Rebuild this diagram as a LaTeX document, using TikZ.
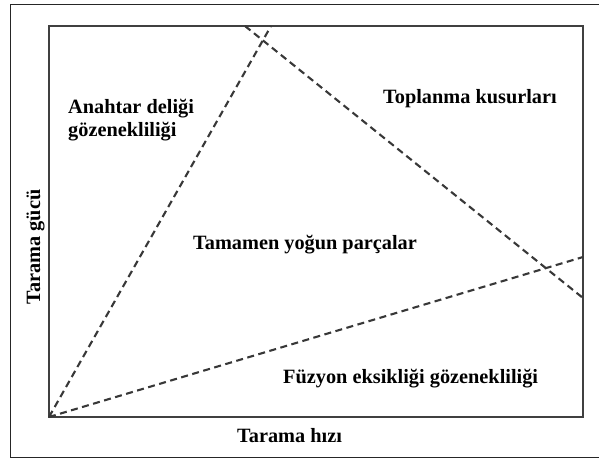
\documentclass[tikz,border=0pt]{standalone}
\usepackage{fontspec}
\setmainfont{Liberation Serif}
\begin{document}
\begin{tikzpicture}[x=1pt,y=-1pt,
  lbl/.style={font=\bfseries\fontsize{20.3}{23}\selectfont, inner sep=0pt, anchor=base west, text=black},
  dashline/.style={dash pattern=on 7pt off 4.5pt, line width=2.1pt, draw=black!78},
  frame/.style={line width=1pt, draw=black!85},
  plotbox/.style={line width=2.2pt, draw=black!75}]
\useasboundingbox (0,0) rectangle (599,459);
\draw[frame] (603,4) -- (10,4) -- (10,457) -- (603,457);
\draw[plotbox] (49,26) rectangle (583,417);
\coordinate (o) at (49,417);
\coordinate (a) at (271,26);
\coordinate (b1) at (245,26);
\coordinate (b2) at (583,298);
\coordinate (c) at (583,257);
\draw[dashline] (o) -- (a);
\draw[dashline] (b1) -- (b2);
\draw[dashline] (o) -- (c);
\node[lbl] (kh1) at (68,113) {Anahtar deliği};
\node[lbl] (kh2) at (68,136) {gözenekliliği};
\node[lbl] (tk) at (383,103) {Toplanma kusurları};
\node[lbl] (tp) at (193,249) {Tamamen yoğun parçalar};
\node[lbl] (fe) at (283,383) {Füzyon eksikliği gözenekliliği};
\node[lbl] (th) at (237,442) {Tarama hızı};
\node[lbl, anchor=base, rotate=90] (tg) at (40,247) {Tarama gücü};
\end{tikzpicture}
\end{document}
